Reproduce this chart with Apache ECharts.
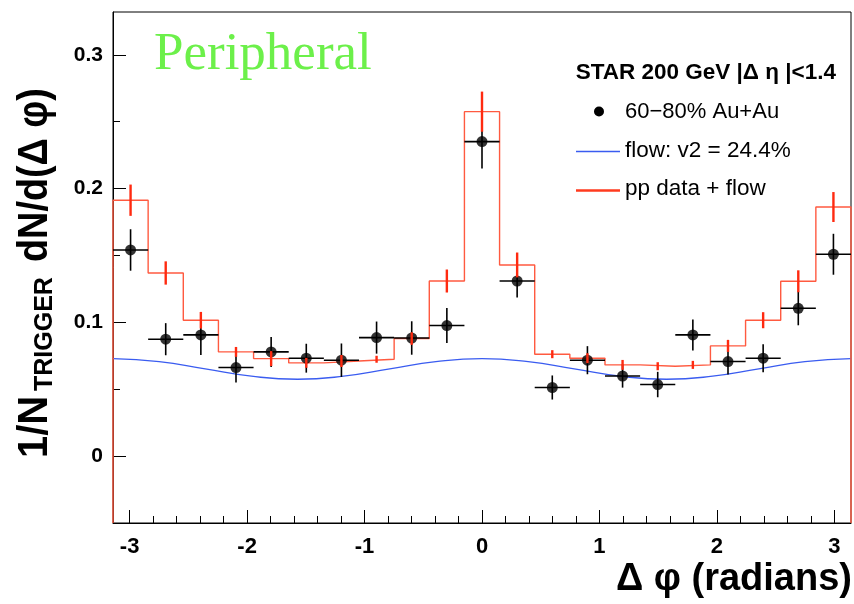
<!DOCTYPE html>
<html>
<head>
<meta charset="utf-8">
<script src="https://cdn.jsdelivr.net/npm/echarts@6/dist/echarts.min.js"></script>
<style>
html,body{margin:0;padding:0;background:#fff;}
#chart{width:854px;height:604px;}
</style>
</head>
<body>
<div id="chart"></div>
<script>
// ---- data ----
var binEdges = [-3.1416, -2.8424, -2.5432, -2.2440, -1.9448, -1.6456, -1.3464, -1.0472, -0.7480, -0.4488, -0.1496,
                0.1496, 0.4488, 0.7480, 1.0472, 1.3464, 1.6456, 1.9448, 2.2440, 2.5432, 2.8424, 3.1416];
// 60-80% Au+Au data points
var auAuValues = [0.1541, 0.0874, 0.0906, 0.0662, 0.0779, 0.0732, 0.0717, 0.0886, 0.0883, 0.0976, 0.2351,
                  0.1309, 0.0513, 0.0717, 0.0599, 0.0535, 0.0906, 0.0707, 0.0732, 0.1105, 0.1509];
var auAuErrors = [0.0155, 0.0120, 0.0150, 0.0112, 0.0112, 0.0108, 0.0125, 0.0120, 0.0125, 0.0131, 0.0200,
                  0.0123, 0.0090, 0.0105, 0.0087, 0.0095, 0.0116, 0.0097, 0.0105, 0.0127, 0.0153];
// pp data + flow histogram
var ppFlowValues = [0.1913, 0.1369, 0.1016, 0.0779, 0.0729, 0.0697, 0.0711, 0.0724, 0.0879, 0.1309, 0.2575,
                    0.1429, 0.0762, 0.0732, 0.0682, 0.0672, 0.0682, 0.0824, 0.1016, 0.1307, 0.1862];
var ppFlowErrors = [0.0117, 0.0087, 0.0062, 0.0037, 0.0056, 0.0037, 0.0045, 0.0026, 0.0047, 0.0086, 0.0150,
                    0.0093, 0.0030, 0.0037, 0.0037, 0.0030, 0.0030, 0.0045, 0.0060, 0.0082, 0.0112];
// flow curve (v2 = 24.4%)
var flowX = [-3.1416, -2.7489, -2.3562, -1.9635, -1.5708, -1.1781, -0.7854, -0.3927, 0,
             0.3927, 0.7854, 1.1781, 1.5708, 1.9635, 2.3562, 2.7489, 3.1416];
var flowY = [0.0729, 0.0706, 0.0652, 0.0598, 0.0575, 0.0598, 0.0652, 0.0706, 0.0729,
             0.0706, 0.0652, 0.0598, 0.0575, 0.0598, 0.0652, 0.0706, 0.0729];
// axis ticks
var xMajorTicks = [-3, -2, -1, 0, 1, 2, 3];
var xMinorTicks = [-2.8, -2.6, -2.4, -2.2, -1.8, -1.6, -1.4, -1.2, -0.8, -0.6, -0.4, -0.2,
                   0.2, 0.4, 0.6, 0.8, 1.2, 1.4, 1.6, 1.8, 2.2, 2.4, 2.6, 2.8];
var yMajorTicks = [0, 0.1, 0.2, 0.3];
var yMinorTicks = [0.05, 0.15, 0.25];
var xRange = [-3.1416, 3.1416];
var yRange = [-0.05, 0.332];

// ---- derived structures ----
var centers = [];
for (var i = 0; i < binEdges.length - 1; i++) centers.push((binEdges[i] + binEdges[i + 1]) / 2);
var auAuData = centers.map(function (c, i) { return [c, auAuValues[i]]; });
var auAuErrData = centers.map(function (c, i) {
  return [c, auAuValues[i], auAuErrors[i], binEdges[i], binEdges[i + 1]];
});
var ppErrData = centers.map(function (c, i) { return [c, ppFlowValues[i], ppFlowErrors[i]]; });
var stepData = [[binEdges[0], yRange[0]]];
for (var j = 0; j < ppFlowValues.length; j++) {
  stepData.push([binEdges[j], ppFlowValues[j]]);
  stepData.push([binEdges[j + 1], ppFlowValues[j]]);
}
stepData.push([binEdges[binEdges.length - 1], yRange[0]]);
var flowData = flowX.map(function (x, i) { return [x, flowY[i]]; });

var chart = echarts.init(document.getElementById('chart'), null, {renderer: 'canvas'});
var FONT = 'Liberation Sans, Arial, Helvetica, sans-serif';

var option = {
  animation: false,
  backgroundColor: '#fff',
  grid: {left: 113, right: 3, top: 12, bottom: 81, show: true, borderColor: '#000', borderWidth: 1, backgroundColor: 'transparent'},
  xAxis: [{
    type: 'value', min: xRange[0], max: xRange[1],
    axisLine: {show: true, onZero: false, lineStyle: {color: '#000', width: 1}},
    axisTick: {show: true, inside: true, length: 13, customValues: xMajorTicks, lineStyle: {color: '#000', width: 1}},
    axisLabel: {show: true, customValues: xMajorTicks, margin: 13, color: '#000', fontFamily: FONT, fontWeight: 'bold', fontSize: 22,
      formatter: function (v) { return String(v); }},
    splitLine: {show: false}
  }, {
    type: 'value', min: xRange[0], max: xRange[1], position: 'bottom',
    axisLine: {show: false, onZero: false},
    axisTick: {show: true, inside: true, length: 7, customValues: xMinorTicks, lineStyle: {color: '#000', width: 1}},
    axisLabel: {show: false},
    splitLine: {show: false}
  }],
  yAxis: [{
    type: 'value', min: yRange[0], max: yRange[1],
    axisLine: {show: true, onZero: false, lineStyle: {color: '#000', width: 1}},
    axisTick: {show: true, inside: true, length: 13, customValues: yMajorTicks, lineStyle: {color: '#000', width: 1}},
    axisLabel: {show: true, customValues: yMajorTicks, margin: 10, color: '#000', fontFamily: FONT, fontWeight: 'bold', fontSize: 21,
      formatter: function (v) { return String(Math.round(v * 10) / 10); }},
    splitLine: {show: false}
  }, {
    type: 'value', min: yRange[0], max: yRange[1], position: 'left',
    axisLine: {show: false, onZero: false},
    axisTick: {show: true, inside: true, length: 7, customValues: yMinorTicks, lineStyle: {color: '#000', width: 1}},
    axisLabel: {show: false},
    splitLine: {show: false}
  }],
  series: [
    {
      type: 'line', name: 'flow', data: flowData, smooth: true, showSymbol: false,
      lineStyle: {color: '#3a5cf0', width: 1.4}, z: 2, silent: true
    },
    {
      type: 'line', name: 'pp data + flow', data: stepData, showSymbol: false,
      lineStyle: {color: '#ff5a40', width: 1.4}, z: 3, silent: true
    },
    {
      type: 'custom', name: 'auau err', data: auAuErrData, z: 4, silent: true,
      renderItem: function (params, api) {
        var x = api.value(0), y = api.value(1), e = api.value(2);
        var pl = api.coord([api.value(3), y]), pr = api.coord([api.value(4), y]);
        var pt = api.coord([x, y + e]), pb = api.coord([x, y - e]);
        return {type: 'group', children: [
          {type: 'line', shape: {x1: pl[0], y1: pl[1], x2: pr[0], y2: pr[1]}, style: {stroke: '#000', lineWidth: 1.6}},
          {type: 'line', shape: {x1: pt[0], y1: pt[1], x2: pb[0], y2: pb[1]}, style: {stroke: '#000', lineWidth: 1.6}}
        ]};
      }
    },
    {
      type: 'scatter', name: '60-80% Au+Au', data: auAuData, symbol: 'circle', symbolSize: 11,
      itemStyle: {color: '#000'}, z: 5, silent: true
    },
    {
      type: 'custom', name: 'pp err', data: ppErrData, z: 6, silent: true,
      renderItem: function (params, api) {
        var x = api.value(0), y = api.value(1), e = api.value(2);
        var pt = api.coord([x, y + e]), pb = api.coord([x, y - e]);
        return {type: 'line', shape: {x1: pt[0], y1: pt[1], x2: pb[0], y2: pb[1]}, style: {stroke: '#ff2a10', lineWidth: 2.4}};
      }
    }
  ],
  graphic: [
    {type: 'text', left: 154, top: 29, style: {text: 'Peripheral', fill: '#6cf04a', font: '53px "Liberation Serif", "Times New Roman", serif'}},
    // legend
    {type: 'text', x: 836, y: 73, style: {text: 'STAR 200 GeV |\u0394 \u03b7 |<1.4', fill: '#000', font: 'bold 22.5px ' + FONT, align: 'right', verticalAlign: 'middle'}},
    {type: 'circle', shape: {cx: 599, cy: 111.5, r: 5}, style: {fill: '#000'}},
    {type: 'text', x: 625, y: 112, style: {text: '60\u221280% Au+Au', fill: '#000', font: '22px ' + FONT, align: 'left', verticalAlign: 'middle'}},
    {type: 'line', shape: {x1: 576, y1: 151.5, x2: 620, y2: 151.5}, style: {stroke: '#3a5cf0', lineWidth: 1.3}},
    {type: 'text', x: 625, y: 151, style: {text: 'flow: v2 = 24.4%', fill: '#000', font: '22.5px ' + FONT, align: 'left', verticalAlign: 'middle'}},
    {type: 'line', shape: {x1: 576, y1: 190.5, x2: 620, y2: 190.5}, style: {stroke: '#ff3a1e', lineWidth: 2.4}},
    {type: 'text', x: 625, y: 189, style: {text: 'pp data + flow', fill: '#000', font: '22.5px ' + FONT, align: 'left', verticalAlign: 'middle'}},
    // axis titles
    {type: 'text', x: 852, y: 580, style: {text: '\u0394 \u03c6 (radians)', fill: '#000', font: 'bold 38px ' + FONT, align: 'right', verticalAlign: 'middle'}},
    {type: 'text', x: 35, y: 458, rotation: Math.PI / 2, scaleX: 0.95, style: {text: '1/N', fill: '#000', font: 'bold 42px ' + FONT, align: 'left', verticalAlign: 'middle'}},
    {type: 'text', x: 45, y: 391, rotation: Math.PI / 2, style: {text: 'TRIGGER', fill: '#000', font: 'bold 25px ' + FONT, align: 'left', verticalAlign: 'middle'}},
    {type: 'text', x: 35, y: 262, rotation: Math.PI / 2, scaleX: 0.9, style: {text: 'dN/d(\u0394 \u03c6)', fill: '#000', font: 'bold 42px ' + FONT, align: 'left', verticalAlign: 'middle'}}
  ]
};
chart.setOption(option);
</script>
</body>
</html>
